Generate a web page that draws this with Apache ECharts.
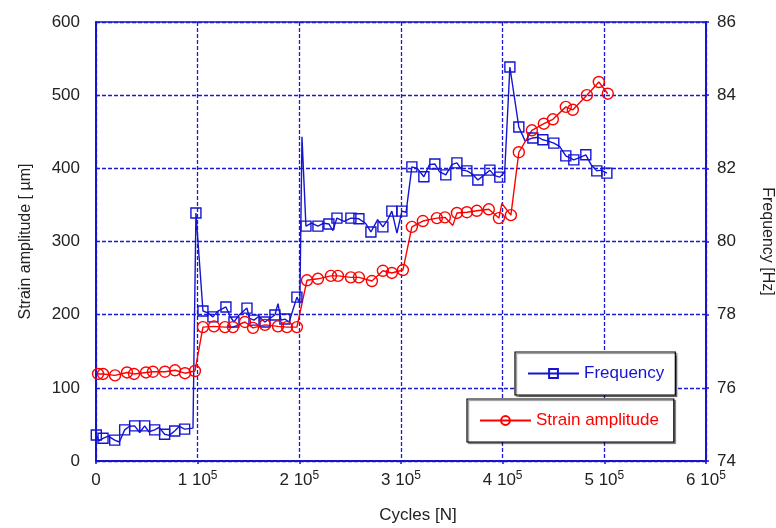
<!DOCTYPE html>
<html>
<head>
<meta charset="utf-8">
<script src="https://cdn.jsdelivr.net/npm/echarts@6/dist/echarts.min.js"></script>
<style>html,body{margin:0;padding:0;background:#fff}#c{width:776px;height:528px}</style>
</head>
<body>
<div id="c"></div>
<script>
// Frequency series: cycles, Hz, marker flag (1 = square drawn)
const freqCycles = [300,3000,6900,12000,18400,23000,28200,33000,38000,43000,47900,52000,57700,62000,67500,72000,77400,82000,87200,95400,98300,
  105200,110000,115000,120000,127800,132000,135700,141000,148500,151000,155400,160000,166200,171000,176000,179000,182000,185800,190000,197600,200500,202600,
  206500,212000,218300,224000,229100,233000,237000,244000,250700,258600,265000,270400,277000,282200,287000,291000,296000,300900,305000,
  310700,316000,322500,328000,333300,338000,344100,350000,355000,360000,364800,370000,375600,381000,387400,392000,397200,402000,407100,
  415900,422000,429700,435000,439500,444000,450300,456000,462100,470000,476000,481800,487000,492600,497000,502500];
const freqValues = [74.71,74.55,74.62,74.68,74.57,74.52,74.85,74.95,74.96,74.78,74.96,74.8,74.85,74.92,74.73,74.7,74.82,74.95,74.87,74.9,80.78,
  78.10,78.05,77.94,78.1,78.21,77.95,77.80,78.0,78.18,77.9,77.85,77.95,77.80,77.9,77.99,78.3,77.85,77.88,77.8,78.48,78.3,82.86,
  80.42,80.5,80.42,80.5,80.48,80.3,80.64,80.55,80.64,80.62,80.5,80.26,80.6,80.40,80.6,80.83,80.23,80.83,80.8,
  82.04,82.0,81.77,82.1,82.12,81.9,81.82,82.1,82.15,81.95,81.93,81.85,81.68,81.8,81.95,81.8,81.76,81.9,84.77,
  83.13,82.75,82.83,82.85,82.78,82.75,82.69,82.6,82.34,82.23,82.3,82.37,82.1,81.93,81.95,81.87];
const freqMarker = [1,0,1,0,1,0,1,0,1,0,1,0,1,0,1,0,1,0,1,0,1,
  1,0,1,0,1,0,1,0,1,0,1,0,1,0,1,0,0,1,0,1,0,0,
  1,0,1,0,1,0,1,0,1,1,0,1,0,1,0,1,0,1,0,
  1,0,1,0,1,0,1,0,1,0,1,0,1,0,1,0,1,0,1,
  1,0,1,0,1,0,1,0,1,1,0,1,0,1,0,1];

// Strain amplitude series: cycles, µm, marker flag (1 = circle drawn)
const strainCycles = [2000,6900,18700,30500,37400,49200,56000,67800,77700,87500,97300,
  105200,116000,126800,134700,146500,154400,166200,179000,187800,197600,
  207500,218300,231100,238000,250700,258600,271400,282200,291000,301900,
  310700,321500,335300,343200,351000,355000,364800,374600,386400,396300,399200,408100,
  415900,428700,440500,449400,462100,469000,482800,494600,503400];
const strainValues = [119,119,117,121,119,121,122,122,124,120,123,
  183,184,183,183,190,182,186,184,183,183,
  247,249,253,253,251,251,246,260,257,261,
  320,328,332,333,322,339,340,342,344,332,352,336,
  422,452,461,467,484,480,500,518,502];
const strainMarker = [1,1,1,1,1,1,1,1,1,1,1,
  1,1,1,1,1,1,1,1,1,1,
  1,1,1,1,1,1,1,1,1,1,
  1,1,1,1,0,1,1,1,1,1,0,1,
  1,1,1,1,1,1,1,1,1];

const xTicks = [0,100000,200000,300000,400000,500000,600000];
const strainTicks = [0,100,200,300,400,500,600];
const freqTicks = [74,76,78,80,82,84,86];

const BLUE = '#1414d2';
const GRID = '#1a1ad8';
const RED = '#ff0000';
const FONT = '"Liberation Sans", Arial, sans-serif';

function build(xs, ys, marks) {
  return xs.map((x, i) => marks[i] ? [x, ys[i]] : {value: [x, ys[i]], symbol: 'none'});
}

const chart = echarts.init(document.getElementById('c'), null, {renderer: 'canvas'});
chart.setOption({
  animation: false,
  backgroundColor: '#fff',
  textStyle: {fontFamily: FONT},
  grid: {left: 96, right: 70, top: 22, bottom: 67, show: true, borderColor: BLUE, borderWidth: 1.5,
         backgroundColor: 'transparent', containLabel: false, outerBoundsMode: 'none'},
  legend: [
    {data: ['Frequency'], left: 515, top: 352, orient: 'horizontal', itemWidth: 51, itemHeight: 11, itemGap: 5,
     padding: [13, 11, 13, 12], backgroundColor: '#fff', borderColor: '#000', borderWidth: 1.2,
     shadowColor: 'rgba(0,0,0,0.45)', shadowBlur: 1, shadowOffsetX: 1.5, shadowOffsetY: 1.5,
     textStyle: {color: BLUE, fontSize: 17, fontFamily: FONT}},
    {data: ['Strain amplitude'], left: 467, top: 399, orient: 'horizontal', itemWidth: 51, itemHeight: 11, itemGap: 5,
     padding: [13, 15, 13, 12], backgroundColor: '#fff', borderColor: '#000', borderWidth: 1.2,
     shadowColor: 'rgba(0,0,0,0.45)', shadowBlur: 1, shadowOffsetX: 1.5, shadowOffsetY: 1.5,
     textStyle: {color: RED, fontSize: 17, fontFamily: FONT}}
  ],
  xAxis: {
    type: 'value', min: 0, max: 600000, interval: 100000,
    name: 'Cycles [N]', nameLocation: 'middle', nameGap: 46,
    nameTextStyle: {color: '#222', fontSize: 17, fontFamily: FONT, padding: [0, 0, 0, 34]},
    axisLine: {show: true, lineStyle: {color: BLUE, width: 2}},
    axisTick: {show: true, length: 3, lineStyle: {color: BLUE, width: 1.5}},
    splitLine: {show: true, lineStyle: {color: GRID, width: 1.3, type: [4, 2]}},
    axisLabel: {
      margin: 9, color: '#222',
      formatter: v => v === 0 ? '{n|0}' : '{n|' + (v / 100000) + ' 10}{s|5}',
      rich: {n: {fontSize: 17, fontFamily: FONT, color: '#222', lineHeight: 20},
             s: {fontSize: 12, fontFamily: FONT, color: '#222', verticalAlign: 'top', lineHeight: 20}}
    }
  },
  yAxis: [
    {type: 'value', min: 0, max: 600, interval: 100, position: 'left',
     name: 'Strain amplitude [ \u00b5m]', nameLocation: 'middle', nameGap: 62,
     nameTextStyle: {color: '#222', fontSize: 16, fontFamily: FONT, padding: [0, 0, 0, 0]},
     axisLine: {show: true, lineStyle: {color: BLUE, width: 2}},
     axisTick: {show: false},
     splitLine: {show: true, lineStyle: {color: GRID, width: 1.3, type: [4, 2]}},
     axisLabel: {margin: 16, color: '#222', fontSize: 17, fontFamily: FONT}},
    {type: 'value', min: 74, max: 86, interval: 2, position: 'right',
     name: 'Frequency [Hz]', nameLocation: 'middle', nameGap: 53, nameRotate: -90,
     nameTextStyle: {color: '#222', fontSize: 16, fontFamily: FONT},
     axisLine: {show: true, lineStyle: {color: BLUE, width: 2}},
     axisTick: {show: true, length: 3, lineStyle: {color: BLUE, width: 1.5}},
     splitLine: {show: false},
     axisLabel: {margin: 11, color: '#222', fontSize: 17, fontFamily: FONT}}
  ],
  series: [
    {name: 'Frequency', type: 'line', yAxisIndex: 1, data: build(freqCycles, freqValues, freqMarker),
     symbol: 'rect', symbolSize: 10, showAllSymbol: true,
     lineStyle: {color: BLUE, width: 1.4},
     itemStyle: {color: 'rgba(255,255,255,0)', borderColor: BLUE, borderWidth: 1.4}},
    {name: 'Strain amplitude', type: 'line', yAxisIndex: 0, data: build(strainCycles, strainValues, strainMarker),
     symbol: 'circle', symbolSize: 11, showAllSymbol: true,
     lineStyle: {color: RED, width: 1.4},
     itemStyle: {color: 'rgba(255,255,255,0)', borderColor: RED, borderWidth: 1.4}}
  ]
});
</script>
</body>
</html>
